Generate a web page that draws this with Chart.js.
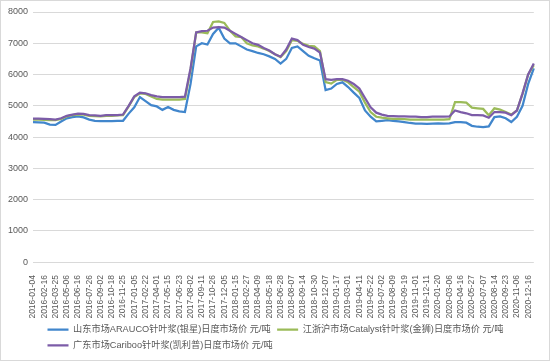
<!DOCTYPE html>
<html>
<head>
<meta charset="utf-8">
<script src="https://cdn.jsdelivr.net/npm/chart.js@4"></script>
<style>
  html, body { margin: 0; padding: 0; background: #fff; }
  #wrap { width: 548px; height: 359px; border: 1px solid #d9d9d9; position: relative; }
</style>
</head>
<body>
<div id="wrap"><canvas id="chart"></canvas></div>
<script>
// x轴显示的日期（每两个数据点一个）
const tickLabels = [
  "2016-01-04", "2016-02-16", "2016-03-25", "2016-05-06", "2016-06-16", "2016-07-26",
  "2016-09-02", "2016-10-18", "2016-11-25", "2017-01-05", "2017-02-22", "2017-04-01",
  "2017-05-15", "2017-06-23", "2017-08-02", "2017-09-11", "2017-10-26", "2017-12-05",
  "2018-01-15", "2018-02-27", "2018-04-09", "2018-05-18", "2018-06-28", "2018-08-07",
  "2018-09-14", "2018-10-30", "2018-12-07", "2019-01-17", "2019-03-01", "2019-04-11",
  "2019-05-22", "2019-07-02", "2019-08-09", "2019-09-19", "2019-11-01", "2019-12-11",
  "2020-01-20", "2020-03-06", "2020-04-16", "2020-05-27", "2020-07-07", "2020-08-14",
  "2020-09-23", "2020-11-06", "2020-12-16"
];

const seriesNames = [
  "山东市场ARAUCO针叶浆(银星)日度市场价 元/吨",
  "江浙沪市场Catalyst针叶浆(金狮)日度市场价 元/吨",
  "广东市场Cariboo针叶浆(凯利普)日度市场价 元/吨"
];

// 山东 ARAUCO
const shandong = [
  4480, 4470, 4460, 4400, 4390, 4500, 4600, 4640, 4660, 4630,
  4560, 4520, 4510, 4510, 4510, 4520, 4520, 4750, 4950, 5280,
  5150, 5020, 4980, 4870, 4960, 4870, 4820, 4800, 5700, 6900,
  7000, 6960, 7300, 7500, 7150, 7000, 7000, 6900, 6800, 6750,
  6690, 6650, 6580, 6500, 6350, 6500, 6850, 6900, 6750, 6600,
  6520, 6450, 5500, 5550, 5700, 5750, 5600, 5420, 5250, 4850,
  4650, 4500, 4520, 4540, 4520, 4500, 4480, 4450, 4430, 4430,
  4420, 4430, 4440, 4430, 4440, 4480, 4480, 4460, 4360, 4330,
  4320, 4340, 4640, 4660, 4600, 4480, 4650, 5000, 5700, 6200
];

// 江浙沪 Catalyst
const jiangzhehu = [
  4560, 4560, 4550, 4540, 4540, 4580, 4660, 4700, 4720, 4720,
  4680, 4670, 4660, 4680, 4680, 4690, 4700, 4980, 5280, 5400,
  5380, 5300, 5220, 5200, 5200, 5200, 5200, 5220, 6150, 7350,
  7350, 7320, 7680, 7700, 7650, 7400, 7220, 7200, 7000, 6930,
  6900, 6830, 6750, 6650, 6560, 6750, 7100, 7080, 6980, 6920,
  6900, 6750, 5760, 5710, 5830, 5830, 5750, 5600, 5450, 5100,
  4800, 4650, 4620, 4600, 4580, 4580, 4570, 4560, 4560, 4560,
  4560, 4560, 4560, 4560, 4570, 5120, 5120, 5100, 4940, 4920,
  4900, 4700, 4920, 4880, 4800, 4720, 4850, 5380, 6000, 6300
];

// 广东 Cariboo
const guangdong = [
  4590, 4590, 4580, 4570, 4560, 4600, 4680, 4720, 4750, 4740,
  4700, 4690, 4680, 4700, 4700, 4700, 4720, 5000, 5300, 5420,
  5400, 5340, 5300, 5280, 5280, 5280, 5280, 5290, 6200, 7350,
  7390, 7400, 7500, 7520, 7500, 7400, 7300, 7200, 7100, 7000,
  6950, 6850, 6770, 6650, 6570, 6800, 7150, 7100, 6950, 6880,
  6830, 6700, 5850, 5830, 5850, 5850, 5800, 5700, 5550, 5250,
  4950, 4780, 4720, 4680, 4670, 4660, 4660, 4650, 4650, 4640,
  4640, 4650, 4650, 4650, 4660, 4850, 4800, 4760, 4700, 4700,
  4690, 4620, 4800, 4800, 4780, 4700, 4850, 5400, 6000, 6350
];

const colors = ["#4186cc", "#9bbb59", "#7c5ca8"];

// 每两个点显示一个日期
const labels = shandong.map((v, i) => (i % 2 === 0 && tickLabels[i / 2]) ? tickLabels[i / 2] : "");

const textColor = "#595959";
const family = "'Liberation Sans', 'Noto Sans CJK SC', sans-serif";

// 图例整体右移，两行左对齐
const legendShift = {
  id: "legendShift",
  afterLayout(chart) {
    chart.legend.left += 40;
  }
};

const ctx = document.getElementById("chart").getContext("2d");
new Chart(ctx, {
  type: "line",
  data: {
    labels: labels,
    datasets: [shandong, jiangzhehu, guangdong].map((data, i) => ({
      label: seriesNames[i],
      data: data,
      borderColor: colors[i],
      backgroundColor: colors[i],
      borderWidth: 2.25,
      pointRadius: 0,
      tension: 0,
      order: 3 - i,
    })),
  },
  options: {
    responsive: true,
    maintainAspectRatio: false,
    animation: false,
    layout: { padding: { left: 0, right: 12, top: 11, bottom: 0 } },
    plugins: {
      tooltip: { enabled: false },
      legend: {
        position: "bottom",
        align: "start",
        labels: {
          usePointStyle: true,
          pointStyle: "line",
          pointStyleWidth: 21,
          padding: 6.5,
          color: textColor,
          font: { family: family, size: 9.2 },
          sort: (a, b) => a.datasetIndex - b.datasetIndex,
        },
      },
    },
    scales: {
      x: {
        offset: false,
        grid: { display: false },
        border: { display: false },
        ticks: {
          autoSkip: false,
          maxRotation: 90,
          minRotation: 90,
          padding: 5,
          color: textColor,
          font: { family: family, size: 8.5 },
        },
        afterFit: (scale) => { scale.height -= 5; },
      },
      y: {
        min: 0,
        max: 8000,
        ticks: {
          stepSize: 1000,
          padding: 5,
          color: textColor,
          font: { family: family, size: 9 },
          callback: (v) => String(v),
        },
        grid: { color: "#d9d9d9", drawTicks: false },
        border: { display: false },
        afterFit: (scale) => { scale.width = 32; },
      },
    },
  },
  plugins: [legendShift],
});
</script>
</body>
</html>
